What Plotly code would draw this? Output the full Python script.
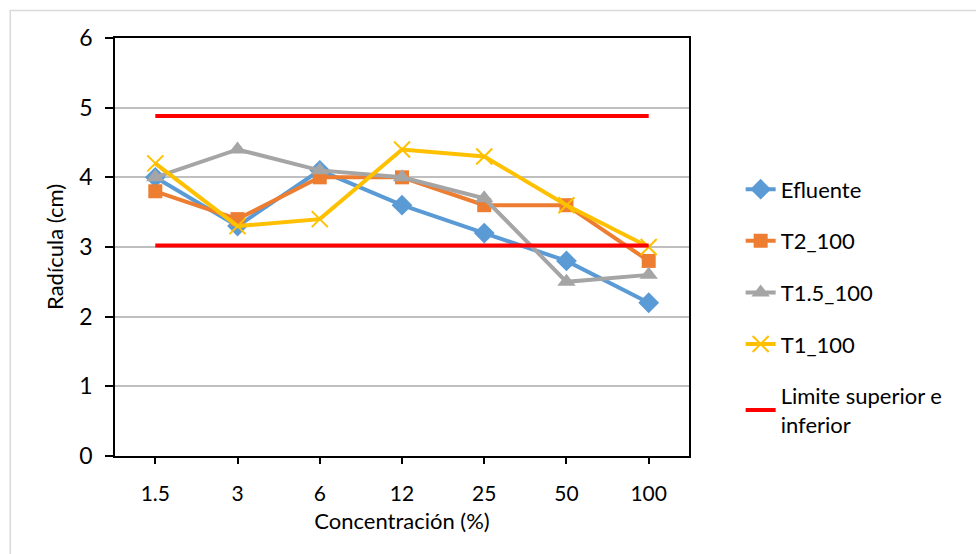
import plotly.graph_objects as go

# Root length (cm) per effluent concentration
concentrations = ["1.5", "3", "6", "12", "25", "50", "100"]
efluente = [4.0, 3.3, 4.1, 3.6, 3.2, 2.8, 2.2]
t2_100 = [3.8, 3.4, 4.0, 4.0, 3.6, 3.6, 2.8]
t15_100 = [4.0, 4.4, 4.1, 4.0, 3.7, 2.5, 2.6]
t1_100 = [4.2, 3.3, 3.4, 4.4, 4.3, 3.6, 3.0]
upper_limit = [4.88] * len(concentrations)
lower_limit = [3.02] * len(concentrations)

y_ticks = [0, 1, 2, 3, 4, 5, 6]

FONT = "Lato, Calibri, Carlito, sans-serif"

fig = go.Figure()

series = [
    ("Efluente", efluente, "#5B9BD5", dict(symbol="diamond", size=16, color="#5B9BD5")),
    ("T2_100", t2_100, "#ED7D31", dict(symbol="square", size=14, color="#ED7D31")),
    ("T1.5_100", t15_100, "#A5A5A5", dict(symbol="triangle-up", size=16, color="#A5A5A5")),
    ("T1_100", t1_100, "#FFC000", dict(symbol="x-thin", size=16, color="#FFC000",
                                       line=dict(color="#FFC000", width=2))),
]
for name, vals, col, mk in series:
    fig.add_trace(go.Scatter(
        x=concentrations, y=vals, name=name, mode="lines+markers",
        line=dict(color=col, width=4), marker=mk, legendgroup=name,
    ))

fig.add_trace(go.Scatter(
    x=concentrations, y=upper_limit, name="Limite superior e<br>inferior",
    mode="lines", line=dict(color="#FF0000", width=4), legendgroup="lim",
))
fig.add_trace(go.Scatter(
    x=concentrations, y=lower_limit, name="Limite inferior",
    mode="lines", line=dict(color="#FF0000", width=4), legendgroup="lim",
    showlegend=False,
))

fig.update_layout(
    width=976, height=554,
    margin=dict(l=115, r=287, t=38, b=98),
    paper_bgcolor="white", plot_bgcolor="white",
    font=dict(family=FONT, size=22, color="#000000"),
    showlegend=True,
    legend=dict(
        x=1.09, xanchor="left", y=0.688, yanchor="top",
        traceorder="grouped", tracegroupgap=20,
        font=dict(family=FONT, size=22, color="#000000"),
        bgcolor="rgba(0,0,0,0)",
    ),
    xaxis=dict(
        type="category", range=[-0.49, 6.49],
        showline=True, linecolor="#000000", linewidth=1.5, mirror=True,
        ticks="outside", ticklen=6, tickcolor="#000000", tickwidth=1.5,
        ticklabelstandoff=12,
        showgrid=False, zeroline=False,
        title=dict(text="Concentración (%)", standoff=10,
                   font=dict(family=FONT, size=22)),
        tickfont=dict(family=FONT, size=21),
    ),
    yaxis=dict(
        range=[0, 6], tickvals=y_ticks,
        showline=True, linecolor="#000000", linewidth=1.5, mirror=True,
        ticks="outside", ticklen=8, tickcolor="#000000", tickwidth=1.5,
        ticklabelstandoff=8,
        showgrid=True, gridcolor="#BFBFBF", gridwidth=1.5, zeroline=False,
        title=dict(text="Radícula (cm)", standoff=10,
                   font=dict(family=FONT, size=22)),
        tickfont=dict(family=FONT, size=23),
    ),
    shapes=[dict(
        type="rect", xref="paper", yref="paper",
        x0=-0.1825, x1=1.52, y0=-0.25, y1=1.066,
        line=dict(color="#D9D9D9", width=1.5), fillcolor="rgba(0,0,0,0)",
        layer="below",
    )],
)

fig.write_html("out.html")
